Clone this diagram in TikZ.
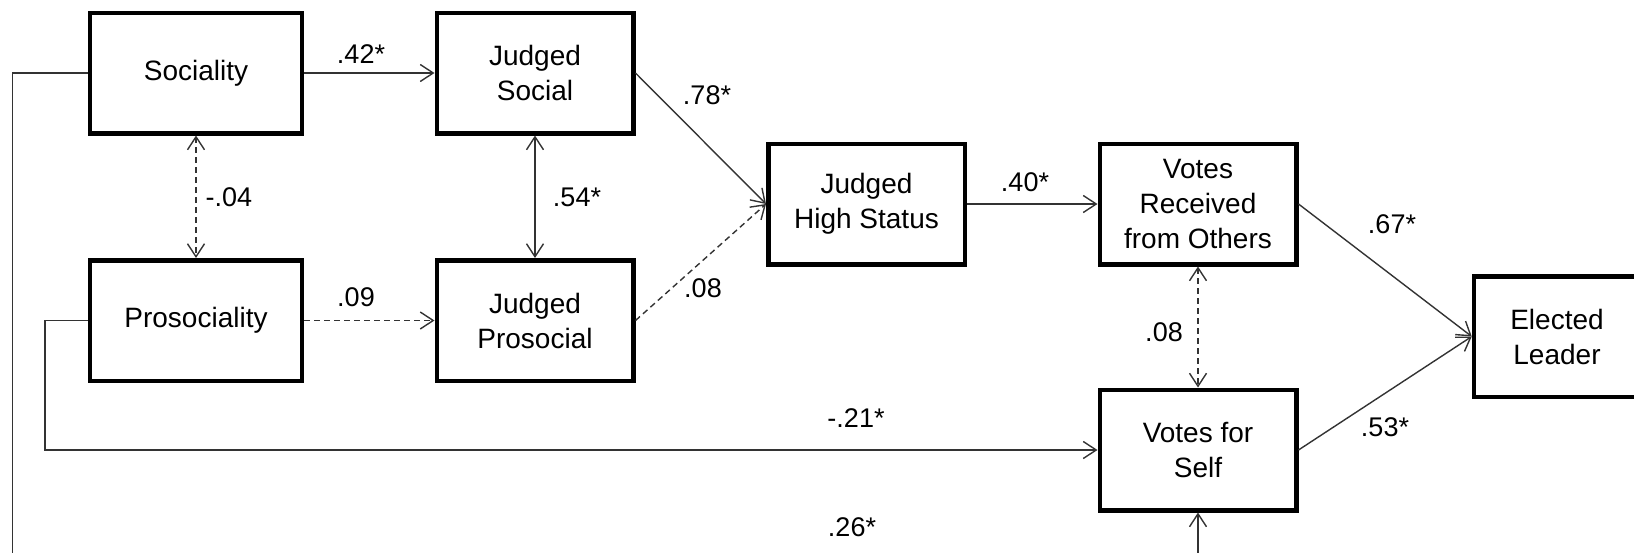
\documentclass[tikz,border=0pt]{standalone}
\usepackage{fontspec}
\setmainfont{Liberation Sans}
\usetikzlibrary{arrows.meta}
\begin{document}
\begin{tikzpicture}[x=1pt,y=-1pt,
  var/.style={draw=black, line width=4.5pt, minimum height=120.5pt,
    align=center, inner sep=0pt, font=\fontsize{28}{35}\selectfont},
  wide/.style={var, minimum width=212pt},
  narrow/.style={var, minimum width=196.5pt},
  conn/.style={draw=black!80, line width=1.4pt,
    -{Straight Barb[length=13pt,width=17pt]}},
  twoway/.style={conn, {Straight Barb[length=13pt,width=17pt]}-{Straight Barb[length=13pt,width=17pt]}},
  dsh/.style={dash pattern=on 6pt off 4pt},
  lbl/.style={inner sep=0pt, font=\fontsize{27}{30}\selectfont}]
\useasboundingbox (0,0) rectangle (1634,552);
\clip (0,0) rectangle (1634,552);

% variables
\node[wide]   (soc)  at (196,73)     {Sociality};
\node[narrow] (js)   at (535,73)     {Judged\\Social};
\node[wide]   (pro)  at (196,320.5)  {Prosociality};
\node[narrow] (jp)   at (535,320.5)  {Judged\\Prosocial};
\node[narrow] (jhs)  at (866.5,204)  {Judged\\High Status};
\node[narrow] (vr)   at (1198,204)   {Votes\\Received\\from Others};
\node[narrow] (vs)   at (1198,450)   {Votes for\\Self};
\node[var, minimum width=166pt] (el) at (1557,336.5) {Elected\\Leader};

% paths
\draw[conn] (soc) -- (js);
\draw[conn,dsh] (pro) -- (jp);
\draw[twoway,dsh] (soc) -- (pro);
\draw[twoway] (js) -- (jp);
\coordinate (jin) at (jhs.west);
\draw[conn] (js.east) -- (jin);
\draw[conn,dsh] (jp.east) -- (jin);
\draw[conn] (jhs) -- (vr);
\draw[twoway,dsh] (vr) -- (vs);
\coordinate (ein) at (el.west);
\draw[conn] (vr.east) -- (ein);
\draw[conn] (vs.east) -- (ein);
\draw[conn] (pro.west) -| (45,450) -- (vs.west);
\coordinate (low) at (12.5,600);
\draw[conn] (soc.west) -| (low) -| (vs.south);

% coefficients
\node[lbl] (c42) at (361,54)    {.42*};
\node[lbl] (c04) at (229,197)   {-.04};
\node[lbl] (c54) at (577,197)   {.54*};
\node[lbl] (c09) at (356,297)   {.09};
\node[lbl] (c78) at (707,95)    {.78*};
\node[lbl] (c08a) at (703,288)  {.08};
\node[lbl] (c40) at (1025,182)  {.40*};
\node[lbl] (c67) at (1392,224)  {.67*};
\node[lbl] (c08b) at (1164,332) {.08};
\node[lbl] (c53) at (1385,427)  {.53*};
\node[lbl] (c21) at (856,418)   {-.21*};
\node[lbl] (c26) at (852,527)   {.26*};
\end{tikzpicture}
\end{document}
